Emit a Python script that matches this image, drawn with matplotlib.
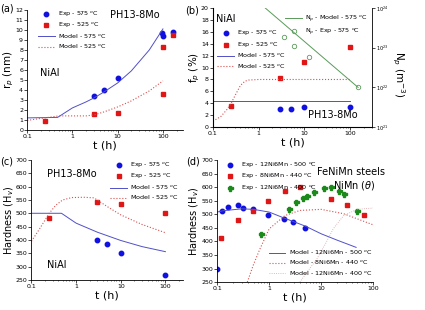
import matplotlib
matplotlib.use('Agg')
import matplotlib.pyplot as plt
import numpy as np

deg = r'$^{o}$C'

## (a) precipitate radius
a_t575 = [3, 5, 10, 95, 100, 170]
a_r575 = [3.4, 4.0, 5.2, 9.7, 9.4, 9.8]
a_t525 = [0.25, 3, 10, 100, 100, 170]
a_r525 = [0.9, 1.6, 1.7, 8.3, 3.6, 9.5]
a_mt575 = [0.1, 0.47, 1, 2, 3, 5, 10, 20, 50, 100]
a_mr575 = [1.2, 1.25, 2.2, 2.8, 3.2, 3.8, 4.7, 5.9, 8.0, 10.1]
a_mt525 = [0.1, 0.5, 1, 2, 3, 5, 10, 20, 50, 100]
a_mr525 = [0.95, 1.4, 1.4, 1.4, 1.5, 1.8, 2.3, 2.9, 3.9, 4.9]

## (b) volume fraction and number density
b_t575 = [3, 5, 10, 100]
b_f575 = [3.1, 3.0, 3.3, 3.3]
b_t525 = [0.25, 3, 10, 100]
b_f525 = [3.5, 8.2, 11.0, 13.5]
b_mt575 = [0.1, 100]
b_mf575 = [4.4, 4.4]
b_mt525 = [0.1, 0.15, 0.2, 0.25, 0.3, 0.4, 0.5, 0.6, 1, 100]
b_mf525 = [1.0, 1.8, 2.9, 4.0, 5.2, 7.0, 7.7, 7.9, 8.0, 8.0]
b_tN = [3.5, 6, 12.5, 150]
b_N = [1.9e23, 1.1e23, 5.9e22, 1.0e22]
b_mtN = [1.4, 150]
b_mN = [1e24, 1e22]

## (c) hardness PH13-8Mo
c_t575 = [3, 5, 10, 100]
c_h575 = [400, 385, 352, 269]
c_t525 = [0.25, 3, 10, 100]
c_h525 = [481, 541, 535, 501]
c_mt575 = [0.1, 0.47, 1, 3, 10, 30, 100]
c_mh575 = [500, 500, 463, 429, 398, 375, 356]
c_mt525 = [0.1, 0.15, 0.25, 0.35, 0.5, 0.8, 1.5, 2.5, 5, 10, 30, 100]
c_mh525 = [395, 440, 500, 530, 550, 559, 560, 558, 525, 494, 458, 427]

## (d) hardness FeNiMn steels
d_t500 = [0.1, 0.123, 0.159, 0.248, 0.32, 0.48, 0.96, 1.92, 2.87, 4.9]
d_h500 = [300, 512, 526, 533, 523, 518, 498, 481, 472, 450]
d_t440 = [0.12, 0.25, 0.48, 0.97, 1.98, 3.9, 15.8, 31, 66]
d_h440 = [412, 478, 513, 549, 585, 601, 555, 533, 499]
d_t400 = [0.70, 2.4, 3.3, 4.4, 5.4, 7.4, 11.1, 15.8, 21.9, 27.5, 50]
d_h400 = [427, 520, 545, 561, 567, 581, 595, 601, 585, 576, 513]
d_mt500 = [0.1, 0.13, 0.3, 0.5, 1, 2, 5, 10, 20, 47]
d_mh500 = [508, 513, 520, 518, 508, 485, 456, 428, 405, 378]
d_mt440 = [0.38, 0.5, 0.66, 1, 2, 3.9, 10, 27, 100]
d_mh440 = [250, 315, 371, 446, 495, 514, 518, 502, 461]
d_mt400 = [3.9, 5.5, 8.2, 12, 17, 27, 49, 100]
d_mh400 = [250, 290, 334, 390, 446, 495, 518, 523]

blue = '#1010e0'
red = '#e01515'
green = '#1a8a1a'
lblue = '#5050c8'
lred = '#d85050'

fs_tick = 4.5
fs_leg = 4.6
fs_lab = 7.5

fig = plt.figure(figsize=(4.25, 3.1), dpi=100)

def style(ax, ylx):
    ax.set_xscale('log')
    for s in ('top', 'right'):
        ax.spines[s].set_visible(False)
    for s in ('left', 'bottom'):
        ax.spines[s].set_linewidth(0.6)
    ax.tick_params(labelsize=fs_tick, width=0.5, length=2, pad=1)
    ax.tick_params(which='minor', width=0.4, length=1)
    ax.set_xticks([0.1, 1, 10, 100])
    ax.set_xticklabels(['0.1', '1', '10', '100'])
    ax.set_xlabel('t (h)', fontsize=8, labelpad=1)
    ax.yaxis.set_label_coords(ylx, 0.5)

def legend(ax, **kw):
    lg = ax.legend(fontsize=fs_leg, frameon=False, handlelength=2.6,
                   labelspacing=0.35, borderpad=0.2, handletextpad=0.5, **kw)
    return lg

## (a)
ax = fig.add_axes([0.064, 0.581, 0.367, 0.387])
ax.plot(a_t575, a_r575, 'o', color=blue, ms=3.2, label='Exp - 575 ' + deg)
ax.plot(a_t525, a_r525, 's', color=red, ms=3, label='Exp - 525 ' + deg)
ax.plot(a_mt575, a_mr575, '-', color=lblue, lw=0.7, label='Model - 575 ' + deg)
ax.plot(a_mt525, a_mr525, ':', color=lred, lw=0.8, label='Model - 525 ' + deg)
ax.set_ylabel('r$_p$ (nm)', fontsize=fs_lab)
style(ax, -0.07)
ax.set_xlim(0.1, 280)
ax.set_ylim(0, 12)
ax.set_yticks(range(0, 13))
legend(ax, loc='upper left', bbox_to_anchor=(0.04, 1.04))
ax.text(0.53, 0.93, 'PH13-8Mo', transform=ax.transAxes, fontsize=7)
ax.text(0.08, 0.45, 'NiAl', transform=ax.transAxes, fontsize=7)
fig.text(0.0, 0.962, '(a)', fontsize=7)

## (b)
ax = fig.add_axes([0.501, 0.590, 0.374, 0.384])
ax.plot(b_t575, b_f575, 'o', color=blue, ms=3.2, label='Exp - 575 ' + deg)
ax.plot(b_t525, b_f525, 's', color=red, ms=3, label='Exp - 525 ' + deg)
ax.plot(b_mt575, b_mf575, '-', color=lblue, lw=0.7, label='Model - 575 ' + deg)
ax.plot(b_mt525, b_mf525, ':', color=lred, lw=0.8, label='Model - 525 ' + deg)
ax.set_ylabel('f$_p$ (%)', fontsize=fs_lab)
style(ax, -0.07)
ax.set_xlim(0.1, 300)
ax.set_ylim(0, 20)
ax.set_yticks(range(0, 21, 2))
legend(ax, loc='upper left', bbox_to_anchor=(0.0, 0.86))
ax.text(0.02, 0.88, 'NiAl', transform=ax.transAxes, fontsize=7)
ax.text(0.6, 0.08, 'PH13-8Mo', transform=ax.transAxes, fontsize=7)
ax2 = ax.twinx()
ax2.plot(b_mtN, b_mN, '-', color='#5a9a5a', lw=0.7, label='N$_p$ - Model - 575 ' + deg)
ax2.plot(b_tN, b_N, 'o', mfc='none', mec='#5a9a5a', mew=0.6, ms=3.2,
         label='N$_p$ - Exp - 575 ' + deg)
ax2.set_yscale('log')
ax2.set_ylim(1e21, 1e24)
ax2.spines['top'].set_visible(False)
ax2.spines['right'].set_linewidth(0.6)
ax2.tick_params(labelsize=3.5, width=0.5, length=2, pad=1)
ax2.tick_params(which='minor', length=0)
fig.text(0.937, 0.76, 'N$_p$ (m$^{-3}$)', fontsize=fs_lab, rotation=270,
         ha='center', va='center')
legend(ax2, loc='upper right', bbox_to_anchor=(1.0, 0.99))
fig.text(0.435, 0.958, '(b)', fontsize=7)

## (c)
ax = fig.add_axes([0.074, 0.097, 0.357, 0.387])
ax.plot(c_t575, c_h575, 'o', color=blue, ms=3.2, label='Exp - 575 ' + deg)
ax.plot(c_t525, c_h525, 's', color=red, ms=3, label='Exp - 525 ' + deg)
ax.plot(c_mt575, c_mh575, '-', color=lblue, lw=0.7, label='Model - 575 ' + deg)
ax.plot(c_mt525, c_mh525, ':', color=lred, lw=0.8, label='Model - 525 ' + deg)
ax.set_ylabel('Hardness (H$_v$)', fontsize=7)
style(ax, -0.105)
ax.set_xlim(0.1, 250)
ax.set_ylim(250, 700)
ax.set_yticks(range(250, 701, 50))
legend(ax, loc='upper right', bbox_to_anchor=(1.0, 1.03))
ax.text(0.1, 0.86, 'PH13-8Mo', transform=ax.transAxes, fontsize=7)
ax.text(0.1, 0.1, 'NiAl', transform=ax.transAxes, fontsize=7)
fig.text(0.0, 0.47, '(c)', fontsize=7)

## (d)
ax = fig.add_axes([0.511, 0.090, 0.367, 0.394])
e1, = ax.plot(d_t500, d_h500, 'o', color=blue, ms=3.2, label='Exp - 12Ni6Mn - 500 ' + deg)
e2, = ax.plot(d_t440, d_h440, 's', color=red, ms=3, label='Exp - 8Ni6Mn - 440 ' + deg)
e3, = ax.plot(d_t400, d_h400, 'P', color=green, ms=3.6, label='Exp - 12Ni6Mn - 400 ' + deg)
m1, = ax.plot(d_mt500, d_mh500, '-', color=lblue, lw=0.7, label='Model - 12Ni6Mn - 500 ' + deg)
m2, = ax.plot(d_mt440, d_mh440, ':', color=lred, lw=0.8, label='Model - 8Ni6Mn - 440 ' + deg)
m3, = ax.plot(d_mt400, d_mh400, ':', color='#d8a0a0', lw=0.6, label='Model - 12Ni6Mn - 400 ' + deg)
ax.set_ylabel('Hardness (H$_v$)', fontsize=7)
style(ax, -0.105)
ax.set_xlim(0.1, 100)
ax.set_ylim(250, 700)
ax.set_yticks(range(250, 701, 50))
lg = legend(ax, handles=[e1, e2, e3], loc='upper left', bbox_to_anchor=(0.0, 1.03))
ax.add_artist(lg)
legend(ax, handles=[m1, m2, m3], loc='lower right', bbox_to_anchor=(1.02, 0.0))
ax.text(0.64, 0.88, 'FeNiMn steels', transform=ax.transAxes, fontsize=7)
ax.text(0.74, 0.77, r'NiMn ($\theta$)', transform=ax.transAxes, fontsize=7)
fig.text(0.437, 0.47, '(d)', fontsize=7)

plt.savefig('out.png', dpi=100)
